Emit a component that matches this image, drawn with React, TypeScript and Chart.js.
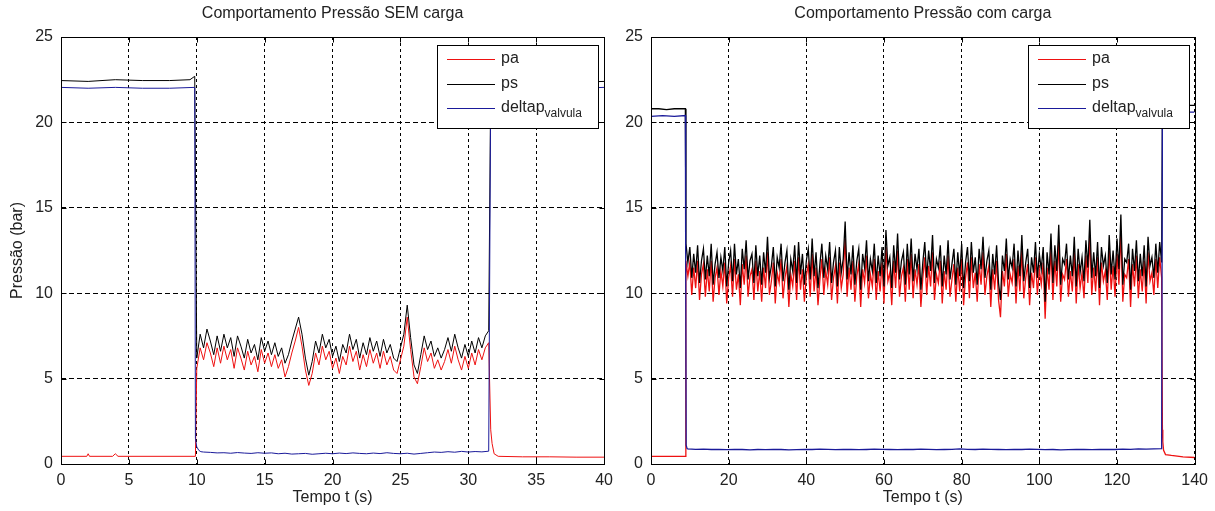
import React, { useEffect, useRef } from 'react';
import { Chart, registerables } from 'chart.js';

Chart.register(...registerables);

const FONT = '"Liberation Sans", Arial, Helvetica, sans-serif';
const TEXT = '#222222';
const RED = '#ee1111';
const BLACK = '#000000';
const BLUE = '#1a1a9a';

// ---------- shared labels ----------
const TITLE_LEFT = 'Comportamento Pressão SEM carga';
const TITLE_RIGHT = 'Comportamento Pressão com carga';
const X_TITLE = 'Tempo t (s)';
const Y_TITLE = 'Pressão (bar)';
const LEGEND_MAIN = ['pa', 'ps', 'deltap'];
const LEGEND_SUB = ['', '', 'valvula'];
const LEGEND_COLORS = [RED, BLACK, BLUE];

// ---------- LEFT chart (SEM carga) ----------
const psLPreT = [0, 2, 4, 6, 8, 9.5, 9.85];
const psLPre = [22.45, 22.4, 22.5, 22.45, 22.45, 22.5, 22.7];
const L_ACT_START = 10.0;
const L_ACT_STEP = 0.25;
const psLAct = [
  6.2, 7.6, 6.8, 7.9, 7.2, 6.4, 7.5, 6.6, 7.6, 6.8,
  7.4, 6.3, 7.5, 6.9, 6.2, 7.3, 6.5, 7.0, 6.1, 7.4,
  6.6, 7.2, 6.4, 7.1, 6.3, 6.8, 5.9, 6.4, 7.2, 7.9,
  8.6, 7.6, 6.2, 5.2, 6.0, 7.2, 6.5, 7.6, 6.8, 7.3,
  6.3, 6.9, 6.0, 7.0, 6.5, 7.6, 6.7, 7.3, 6.2, 7.1,
  6.4, 7.4, 6.6, 7.2, 6.3, 7.3, 6.5, 7.0, 6.2, 6.0,
  6.8, 7.6, 9.3, 7.4, 5.8, 5.3, 6.4, 7.5, 6.7, 7.2,
  6.3, 6.8, 6.2, 6.7, 7.4, 6.6, 7.6, 6.8, 6.2, 7.0,
  6.3, 7.2, 6.5, 7.4, 6.8, 7.5, 7.8,
];
const psLPostT = [31.65, 32, 34, 36, 38, 40];
const psLPost = [22.3, 22.4, 22.35, 22.4, 22.35, 22.4];

const paLPreT = [0, 1.9, 2.0, 2.1, 3.8, 4.0, 4.2, 9.9];
const paLPre = [0.45, 0.45, 0.6, 0.45, 0.45, 0.6, 0.45, 0.45];
const paLAct = [
  5.6, 6.8, 6.1, 7.1, 6.5, 5.7, 6.8, 5.9, 6.9, 6.1,
  6.7, 5.6, 6.8, 6.2, 5.5, 6.6, 5.8, 6.3, 5.4, 6.7,
  5.9, 6.5, 5.7, 6.4, 5.6, 6.1, 5.1, 5.7, 6.5, 7.2,
  8.0, 6.9, 5.5, 4.6, 5.3, 6.5, 5.8, 6.9, 6.1, 6.6,
  5.6, 6.2, 5.3, 6.3, 5.8, 6.9, 6.0, 6.6, 5.5, 6.4,
  5.7, 6.7, 5.9, 6.5, 5.6, 6.6, 5.8, 6.3, 5.5, 5.3,
  6.1, 6.9, 8.6, 6.7, 5.1, 4.7, 5.7, 6.8, 6.0, 6.5,
  5.6, 6.1, 5.5, 6.0, 6.7, 5.9, 6.9, 6.1, 5.5, 6.3,
  5.6, 6.5, 5.8, 6.7, 6.1, 6.8, 7.1,
];
const paLPostT = [31.65, 31.75, 31.9, 32.2, 34, 36, 38, 40];
const paLPost = [2.0, 1.2, 0.6, 0.45, 0.42, 0.42, 0.4, 0.4];

const dpLPreT = [0, 2, 4, 6, 8, 9.85];
const dpLPre = [22.05, 22.0, 22.05, 22.0, 22.0, 22.05];
const dpLTransT = [9.9, 10.0, 10.15, 10.3];
const dpLTrans = [1.5, 1.0, 0.8, 0.72];
const DPL_START = 10.5;
const DPL_STEP = 0.5;
const dpLAct = [
  0.7, 0.68, 0.65, 0.66, 0.63, 0.67, 0.64, 0.62, 0.66, 0.63,
  0.65, 0.6, 0.63, 0.58, 0.6, 0.62, 0.57, 0.6, 0.63, 0.6,
  0.64, 0.61, 0.65, 0.62, 0.6, 0.64, 0.61, 0.66, 0.62, 0.6,
  0.63, 0.58, 0.62, 0.66, 0.7, 0.68, 0.72, 0.69, 0.74, 0.7,
  0.73, 0.71, 0.75,
];
const dpLPostT = [31.65, 32, 34, 36, 38, 40];
const dpLPost = [22.0, 22.05, 22.0, 22.05, 22.0, 22.05];

// ---------- RIGHT chart (com carga) ----------
const psRPreT = [0, 2, 4, 6, 8, 8.85];
const psRPre = [20.8, 20.8, 20.75, 20.8, 20.8, 20.8];
const R_ACT_START = 9.0;
const R_ACT_STEP = 0.5;
const psRAct = [
  12.9, 11.8, 12.7, 10.9, 12.3, 11.2, 12.8, 10.6, 11.9, 12.6, 10.8, 12.2, 11.0, 12.9, 10.5, 11.7, 12.4, 10.9, 12.1, 11.3,
  12.7, 10.4, 11.8, 12.5, 10.7, 12.9, 11.1, 12.0, 10.3, 12.6, 11.4, 13.1, 10.8, 11.9, 12.3, 10.6, 12.8, 11.0, 12.2, 10.5,
  12.4, 11.2, 13.3, 10.9, 11.6, 12.7, 10.4, 12.1, 11.5, 12.9, 10.7, 11.8, 12.5, 10.2, 12.0, 11.3, 12.8, 10.6, 13.0, 11.1,
  12.3, 10.5, 11.9, 12.6, 10.8, 13.2, 11.0, 12.4, 10.3, 11.7, 12.9, 10.9, 12.2, 11.4, 13.0, 10.6, 11.8, 12.5, 10.4, 12.7,
  11.2, 12.0, 14.2, 10.8, 12.4, 11.1, 12.8, 10.5, 11.9, 12.6, 10.2, 12.3, 11.5, 13.1, 10.7, 12.0, 11.3, 12.9, 10.6, 12.2,
  11.0, 12.7, 10.4, 13.7, 11.6, 12.1, 10.3, 12.8, 11.2, 13.5, 10.8, 11.9, 12.4, 10.5, 12.9, 11.1, 13.2, 10.7, 12.3, 11.4,
  12.6, 10.2, 11.8, 13.0, 10.9, 12.5, 11.3, 13.4, 10.6, 12.0, 11.5, 12.8, 10.4, 12.2, 11.1, 13.1, 10.8, 11.7, 12.6, 10.5,
  12.4, 11.0, 12.9, 10.3, 11.8, 12.7, 10.7, 13.0, 11.2, 12.1, 10.5, 12.6, 11.4, 13.3, 10.9, 11.9, 12.5, 10.2, 12.3, 11.1,
  12.8, 10.6, 9.6, 12.2, 11.3, 13.2, 10.8, 12.0, 11.5, 12.9, 10.4, 12.5, 11.0, 13.4, 10.7, 11.8, 12.6, 10.3, 12.1, 11.2,
  13.0, 10.9, 12.3, 11.4, 12.7, 9.5, 12.4, 11.1, 13.5, 10.6, 12.8, 11.3, 14.0, 10.5, 12.0, 11.7, 12.9, 10.8, 12.2, 11.0,
  13.3, 10.4, 12.6, 11.2, 12.1, 10.7, 13.1, 11.5, 14.3, 10.9, 12.4, 11.0, 13.0, 10.3, 12.7, 11.6, 12.2, 10.6, 13.4, 11.1,
  12.5, 10.8, 13.2, 11.4, 14.6, 10.5, 12.0, 11.8, 12.9, 10.2, 12.6, 11.3, 13.1, 10.7, 12.3, 11.0, 12.8, 10.4, 13.3, 11.6,
  12.1, 10.9, 12.9, 11.2, 13.0, 11.8,
];
const psRPostT = [131.7, 132, 135, 138, 140];
const psRPost = [21.0, 21.0, 21.05, 21.0, 21.0];

const paRPreT = [0, 4, 8.85, 8.95];
const paRPre = [0.45, 0.45, 0.45, 7.0];
const paRAct = [
  11.9, 11.0, 11.8, 9.9, 11.5, 10.3, 11.9, 9.6, 11.1, 11.7, 9.8, 11.4, 10.1, 11.9, 9.5, 10.9, 11.5, 9.9, 11.3, 10.4,
  11.8, 9.4, 10.9, 11.6, 9.8, 12.0, 10.2, 11.1, 9.3, 11.7, 10.5, 12.2, 9.8, 11.0, 11.4, 9.6, 11.9, 10.1, 11.3, 9.5,
  11.5, 10.3, 12.4, 9.9, 10.7, 11.8, 9.4, 11.2, 10.6, 12.0, 9.7, 10.9, 11.6, 9.2, 11.1, 10.4, 11.9, 9.6, 12.1, 10.2,
  11.4, 9.5, 11.0, 11.7, 9.8, 12.3, 10.1, 11.5, 9.3, 10.8, 12.0, 9.9, 11.3, 10.5, 12.1, 9.6, 10.9, 11.6, 9.4, 11.8,
  10.3, 11.1, 13.2, 9.8, 11.5, 10.2, 11.9, 9.5, 11.0, 11.7, 9.2, 11.4, 10.6, 12.2, 9.7, 11.1, 10.4, 12.0, 9.6, 11.3,
  10.1, 11.8, 9.4, 12.7, 10.7, 11.2, 9.3, 11.9, 10.3, 12.5, 9.8, 11.0, 11.5, 9.5, 12.0, 10.2, 12.3, 9.7, 11.4, 10.5,
  11.7, 9.2, 10.9, 12.1, 9.9, 11.6, 10.4, 12.4, 9.6, 11.1, 10.6, 11.9, 9.4, 11.3, 10.2, 12.2, 9.8, 10.8, 11.7, 9.5,
  11.5, 10.1, 12.0, 9.3, 10.9, 11.8, 9.7, 12.1, 10.3, 11.2, 9.5, 11.7, 10.5, 12.4, 9.9, 11.0, 11.6, 9.2, 11.4, 10.2,
  11.9, 9.6, 8.6, 11.3, 10.4, 12.3, 9.8, 11.1, 10.6, 12.0, 9.4, 11.6, 10.1, 12.5, 9.7, 10.9, 11.7, 9.3, 11.2, 10.3,
  12.1, 9.9, 11.4, 10.5, 11.8, 8.5, 11.5, 10.2, 12.6, 9.6, 11.9, 10.4, 13.0, 9.5, 11.1, 10.8, 12.0, 9.8, 11.3, 10.1,
  12.4, 9.4, 11.7, 10.3, 11.2, 9.7, 12.2, 10.6, 13.3, 9.9, 11.5, 10.1, 12.1, 9.3, 11.8, 10.7, 11.3, 9.6, 12.5, 10.2,
  11.6, 9.8, 12.3, 10.5, 13.6, 9.5, 11.1, 10.9, 12.0, 9.2, 11.7, 10.4, 12.2, 9.7, 11.4, 10.1, 11.9, 9.4, 12.4, 10.7,
  11.2, 9.9, 12.0, 10.3, 12.1, 10.9,
];
const paRPostT = [131.7, 131.8, 132.0, 132.5, 134, 137, 140];
const paRPost = [2.0, 1.3, 0.8, 0.55, 0.5, 0.42, 0.38];

const dpRPreT = [0, 3, 6, 8.85];
const dpRPre = [20.35, 20.4, 20.35, 20.4];
const dpRTransT = [8.9, 8.95, 9.05, 9.3];
const dpRTrans = [16.5, 12.8, 1.1, 0.9];
const DPR_START = 9.5;
const DPR_STEP = 2;
const dpRAct = [
  0.88, 0.86, 0.87, 0.85, 0.86, 0.84, 0.86, 0.85, 0.83, 0.85,
  0.84, 0.86, 0.85, 0.83, 0.84, 0.86, 0.85, 0.87, 0.86, 0.84,
  0.85, 0.86, 0.84, 0.85, 0.87, 0.86, 0.85, 0.84, 0.86, 0.85,
  0.87, 0.86, 0.84, 0.85, 0.86, 0.88, 0.86, 0.85, 0.87, 0.86,
  0.85, 0.84, 0.86, 0.85, 0.87, 0.86, 0.84, 0.85, 0.83, 0.84,
  0.85, 0.86, 0.84, 0.85, 0.86, 0.85, 0.87, 0.86, 0.88, 0.87,
  0.89, 0.9,
];
const dpRPostT = [131.7, 132, 135, 138, 140];
const dpRPost = [20.6, 20.6, 20.55, 20.6, 20.6];

// ---------- helpers ----------
type Pt = { x: number; y: number };
const pts = (ts: number[], vs: number[]): Pt[] => ts.map((t, i) => ({ x: t, y: vs[i] }));
const seg = (start: number, step: number, vs: number[]): Pt[] =>
  vs.map((v, i) => ({ x: Math.round((start + i * step) * 1000) / 1000, y: v }));

const ds = (label: string, color: string, data: Pt[], width: number) => ({
  label,
  data,
  borderColor: color,
  backgroundColor: color,
  borderWidth: width,
  pointRadius: 0,
  tension: 0,
  fill: false,
});

const boxPlugin = {
  id: 'matlabBox',
  afterDatasetsDraw(chart: any) {
    const ctx = chart.ctx as CanvasRenderingContext2D;
    const a = chart.chartArea;
    const L = Math.round(a.left) + 0.5;
    const R = Math.round(a.right) + 0.5;
    const T = Math.round(a.top) + 0.5;
    const B = Math.round(a.bottom) + 0.5;
    ctx.save();
    ctx.setLineDash([]);
    ctx.strokeStyle = '#000';
    ctx.lineWidth = 1;
    ctx.strokeRect(L, T, R - L, B - T);
    const tl = 5;
    ctx.beginPath();
    chart.scales.x.ticks.forEach((t: any) => {
      const px = Math.round(chart.scales.x.getPixelForValue(t.value)) + 0.5;
      ctx.moveTo(px, T); ctx.lineTo(px, T + tl);
      ctx.moveTo(px, B); ctx.lineTo(px, B - tl);
    });
    chart.scales.y.ticks.forEach((t: any) => {
      const py = Math.round(chart.scales.y.getPixelForValue(t.value)) + 0.5;
      ctx.moveTo(L, py); ctx.lineTo(L + tl, py);
      ctx.moveTo(R, py); ctx.lineTo(R - tl, py);
    });
    ctx.stroke();

    // legend
    const w = 161;
    const h = 83;
    const x0 = Math.round(a.right - 6 - w);
    const y0 = Math.round(a.top + 8);
    ctx.fillStyle = '#fff';
    ctx.fillRect(x0, y0, w, h);
    ctx.strokeStyle = '#000';
    ctx.strokeRect(x0 + 0.5, y0 + 0.5, w, h);
    LEGEND_MAIN.forEach((lab, i) => {
      const cy = Math.round(y0 + 14 + i * 24.5);
      ctx.strokeStyle = LEGEND_COLORS[i];
      ctx.beginPath();
      ctx.moveTo(x0 + 10, cy + 0.5);
      ctx.lineTo(x0 + 58, cy + 0.5);
      ctx.stroke();
      ctx.fillStyle = TEXT;
      ctx.textBaseline = 'middle';
      ctx.textAlign = 'left';
      ctx.font = `16px ${FONT}`;
      ctx.fillText(lab, x0 + 64, cy);
      if (LEGEND_SUB[i]) {
        const mw = ctx.measureText(lab).width;
        ctx.font = `12px ${FONT}`;
        ctx.fillText(LEGEND_SUB[i], x0 + 64 + mw, cy + 6);
      }
    });
    ctx.restore();
  },
};

const makeConfig = (opts: {
  title: string;
  xMax: number;
  xStep: number;
  yTitle: string | null;
  yWidth: number;
  rightPad: number;
  datasets: any[];
}): any => ({
  type: 'line',
  data: { datasets: opts.datasets },
  options: {
    animation: false,
    responsive: false,
    layout: { padding: { left: 0, right: opts.rightPad, top: 0, bottom: 0 } },
    plugins: {
      legend: { display: false },
      tooltip: { enabled: false },
      title: {
        display: true,
        text: opts.title,
        fullSize: false,
        color: TEXT,
        font: { family: FONT, size: 16, weight: 'normal' },
        padding: { top: 4, bottom: 13.8 },
      },
    },
    scales: {
      x: {
        type: 'linear',
        min: 0,
        max: opts.xMax,
        ticks: {
          stepSize: opts.xStep,
          color: TEXT,
          font: { family: FONT, size: 16 },
          padding: 7,
          maxRotation: 0,
          autoSkip: false,
        },
        grid: { color: '#000', lineWidth: 1, drawTicks: false, borderDash: [3, 3] },
        border: { display: false, dash: [3, 3] },
        title: {
          display: true,
          text: X_TITLE,
          color: TEXT,
          font: { family: FONT, size: 16 },
          padding: { top: 0, bottom: 4 },
        },
        afterFit: (s: any) => { s.height = 47; },
      },
      y: {
        type: 'linear',
        min: 0,
        max: 25,
        ticks: {
          stepSize: 5,
          color: TEXT,
          font: { family: FONT, size: 16 },
          padding: 8,
        },
        grid: { color: '#000', lineWidth: 1, drawTicks: false, borderDash: [5, 3] },
        border: { display: false, dash: [5, 3] },
        title: opts.yTitle
          ? {
              display: true,
              text: opts.yTitle,
              color: TEXT,
              font: { family: FONT, size: 16 },
              padding: { top: 8, bottom: 0 },
            }
          : { display: false },
        afterFit: (s: any) => { s.width = opts.yWidth; },
      },
    },
  },
  plugins: [boxPlugin],
});

export default function App() {
  const leftRef = useRef<HTMLCanvasElement | null>(null);
  const rightRef = useRef<HTMLCanvasElement | null>(null);

  useEffect(() => {
    document.body.style.margin = '0';
    const psL = [...pts(psLPreT, psLPre), ...seg(L_ACT_START, L_ACT_STEP, psLAct), ...pts(psLPostT, psLPost)];
    const paL = [...pts(paLPreT, paLPre), ...seg(L_ACT_START, L_ACT_STEP, paLAct), ...pts(paLPostT, paLPost)];
    const dpL = [
      ...pts(dpLPreT, dpLPre),
      ...pts(dpLTransT, dpLTrans),
      ...seg(DPL_START, DPL_STEP, dpLAct),
      ...pts(dpLPostT, dpLPost),
    ];
    const psR = [...pts(psRPreT, psRPre), ...seg(R_ACT_START, R_ACT_STEP, psRAct), ...pts(psRPostT, psRPost)];
    const paR = [...pts(paRPreT, paRPre), ...seg(R_ACT_START, R_ACT_STEP, paRAct), ...pts(paRPostT, paRPost)];
    const dpR = [
      ...pts(dpRPreT, dpRPre),
      ...pts(dpRTransT, dpRTrans),
      ...seg(DPR_START, DPR_STEP, dpRAct),
      ...pts(dpRPostT, dpRPost),
    ];

    const left = new Chart(
      leftRef.current as HTMLCanvasElement,
      makeConfig({
        title: TITLE_LEFT,
        xMax: 40,
        xStep: 5,
        yTitle: Y_TITLE,
        yWidth: 61,
        rightPad: 14,
        datasets: [
          ds(LEGEND_MAIN[2], BLUE, dpL, 1),
          ds(LEGEND_MAIN[1], BLACK, psL, 1),
          ds(LEGEND_MAIN[0], RED, paL, 1),
        ],
      })
    );
    const right = new Chart(
      rightRef.current as HTMLCanvasElement,
      makeConfig({
        title: TITLE_RIGHT,
        xMax: 140,
        xStep: 20,
        yTitle: null,
        yWidth: 31,
        rightPad: 17,
        datasets: [
          ds(LEGEND_MAIN[2], BLUE, dpR, 1.3),
          ds(LEGEND_MAIN[1], BLACK, psR, 1.3),
          ds(LEGEND_MAIN[0], RED, paR, 1.3),
        ],
      })
    );
    return () => {
      left.destroy();
      right.destroy();
    };
  }, []);

  return (
    <div style={{ position: 'relative', width: 1215, height: 511, background: '#fff', overflow: 'hidden' }}>
      <canvas
        ref={leftRef}
        width={620}
        height={511}
        style={{ position: 'absolute', left: 0, top: 0, width: 620, height: 511 }}
      />
      <canvas
        ref={rightRef}
        width={595}
        height={511}
        style={{ position: 'absolute', left: 620, top: 0, width: 595, height: 511 }}
      />
    </div>
  );
}
